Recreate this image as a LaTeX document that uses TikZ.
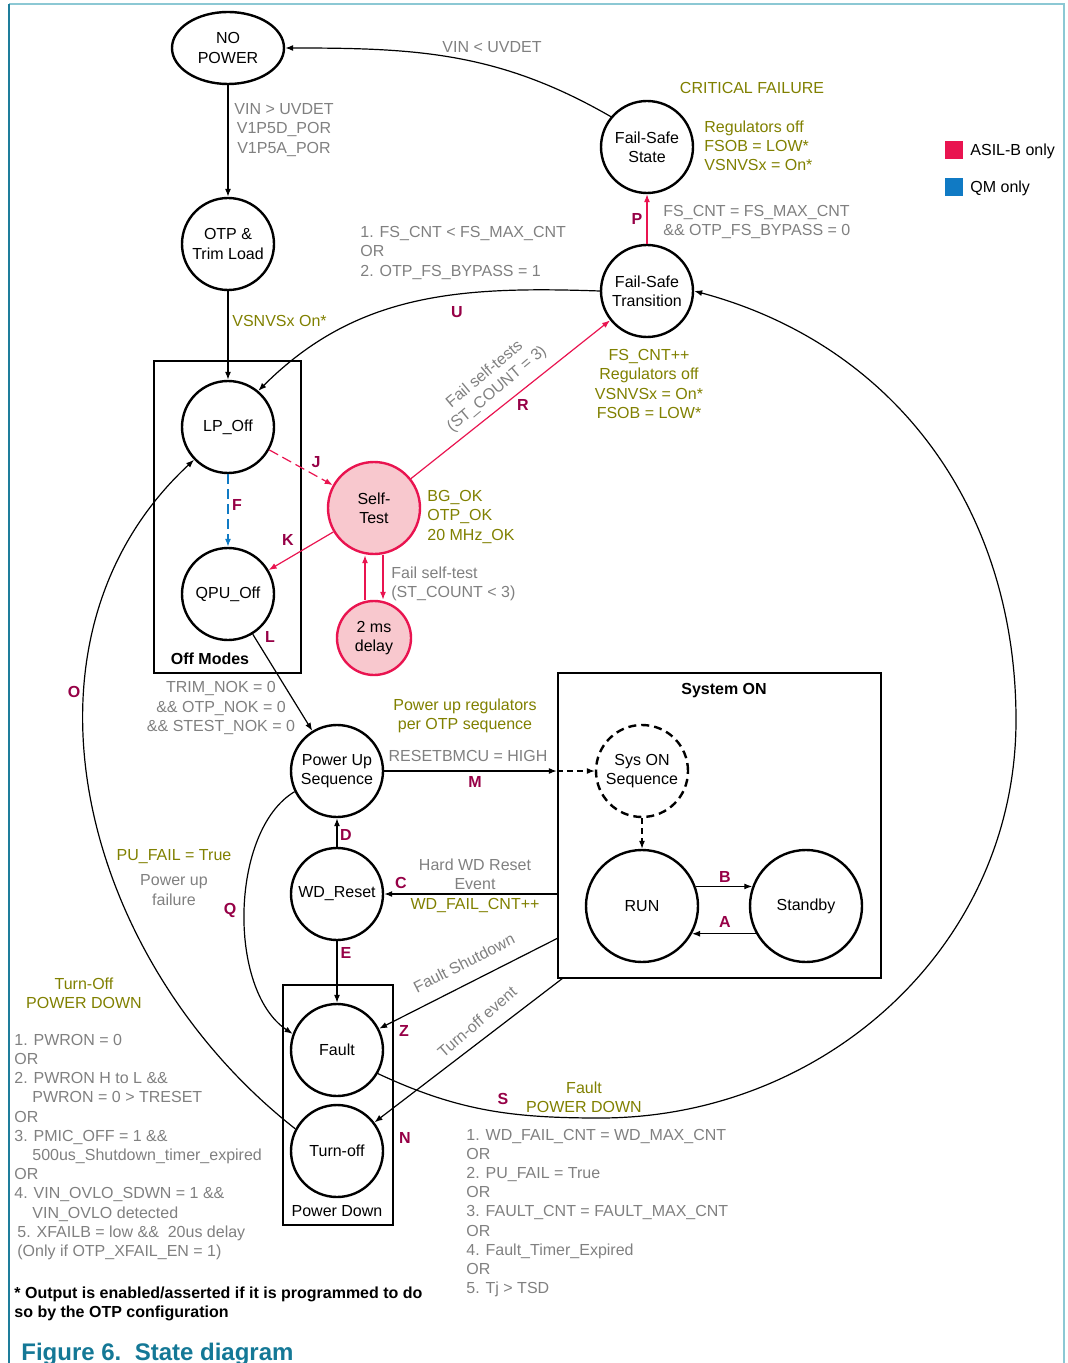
\documentclass[tikz,border=0pt]{standalone}
\usepackage{fontspec}
\setmainfont{Liberation Sans}
\usetikzlibrary{arrows.meta, shapes.geometric}

\definecolor{asil}{RGB}{233,20,80}
\definecolor{asilfill}{RGB}{248,200,206}
\definecolor{qm}{RGB}{16,122,196}
\definecolor{olivetxt}{RGB}{128,128,0}
\definecolor{graytxt}{RGB}{128,128,128}
\definecolor{lettercol}{RGB}{150,0,70}
\definecolor{framelt}{RGB}{140,200,212}
\definecolor{framedk}{RGB}{30,125,155}
\definecolor{captioncol}{RGB}{20,120,150}

\tikzset{
  state/.style={circle, draw, line width=1.2pt, minimum size=46pt, inner sep=0pt, align=center},
  bigstate/.style={state, minimum size=56pt},
  asilstate/.style={state, draw=asil, fill=asilfill},
  region/.style={rectangle, draw, line width=1.2pt, inner sep=0pt},
  txt/.style={inner sep=0pt, align=center},
  cond/.style={txt, text=graytxt},
  act/.style={txt, text=olivetxt},
  letter/.style={inner sep=0pt, text=lettercol, font=\fontsize{8}{9.6}\selectfont\bfseries},
  trans/.style={-{Latex[length=4pt,width=3pt]}, line width=0.6pt},
  asiltrans/.style={trans, draw=asil},
  qmtrans/.style={trans, draw=qm, dash pattern=on 5pt off 2.5pt},
}

\begin{document}
\begin{tikzpicture}[x=0.5pt, y=0.5pt, font=\fontsize{8}{9.6}\selectfont]
  \useasboundingbox (0,0) rectangle (1068,-1363);

  % page frame
  \draw[framelt, line width=1pt] (9,-4) -- (1064,-4) -- (1064,-1363);
  \draw[framedk, line width=1pt] (9,-4) -- (9,-1363);

  % regions
  \node[region, minimum width=73.5pt, minimum height=156pt] (offbox) at (227.5,-517) {};
  \node[region, minimum width=55pt, minimum height=120pt] (pdbox) at (338,-1105) {};
  \node[region, minimum width=161.5pt, minimum height=152.5pt] (sysbox) at (719.5,-825.5) {};
  \node[font=\fontsize{8}{9.6}\selectfont\bfseries, inner sep=0pt] (offlbl) at (210,-659) {Off Modes};
  \node[inner sep=0pt] (pdlbl) at (337,-1211) {Power Down};
  \node[font=\fontsize{8}{9.6}\selectfont\bfseries, inner sep=0pt] (syslbl) at (724,-691) {System ON};

  % states
  \node[ellipse, draw, line width=1.2pt, minimum width=56pt, minimum height=36pt, inner sep=0pt, align=center] (nopower) at (228,-48) {NO\\POWER};
  \node[state] (otp) at (228,-244) {OTP \&\\Trim Load};
  \node[state] (lpoff) at (228,-427) {LP\_Off};
  \node[state] (qpuoff) at (228,-594) {QPU\_Off};
  \node[asilstate] (selftest) at (374,-508) {Self-\\Test};
  \node[asilstate, minimum size=37pt] (delay) at (374,-638) {2 ms\\delay};
  \node[state] (fss) at (647,-147) {Fail-Safe\\State};
  \node[state] (fst) at (647,-291) {Fail-Safe\\Transition};
  \node[state] (pwrup) at (337,-771) {Power Up\\Sequence};
  \node[state] (wdrst) at (337,-894) {WD\_Reset};
  \node[state] (fault) at (337,-1050) {Fault};
  \node[state] (turnoff) at (337,-1151) {Turn-off};
  \node[state, dash pattern=on 4pt off 2.5pt] (sysseq) at (642,-771) {Sys ON\\Sequence};
  \node[bigstate] (run) at (642,-906) {RUN};
  \node[bigstate] (standby) at (806,-906) {Standby};

  % legend
  \node[fill=asil, minimum size=9pt, inner sep=0pt] (asilkey) at (954,-150) {};
  \node[anchor=west, inner sep=0pt] (asiltxt) at (970,-151) {ASIL-B only};
  \node[fill=qm, minimum size=9pt, inner sep=0pt] (qmkey) at (954,-187) {};
  \node[anchor=west, inner sep=0pt] (qmtxt) at (970,-188) {QM only};

  % transitions
  \draw[trans] (nopower.south) -- (otp.north);
  \draw[trans] (otp.south) -- (lpoff.north);
  \draw[trans] (fss.140) to[out=150, in=0] (nopower.east);
  \draw[asiltrans] (fst.north) -- (fss.south);
  \draw[trans] (fst.west) to[out=178, in=45] (lpoff.50);
  \draw[qmtrans] (lpoff.south) -- (qpuoff.north);
  \draw[asiltrans, dash pattern=on 5pt off 2.5pt] (lpoff) -- (selftest);
  \draw[asiltrans] (selftest) -- (qpuoff);
  \draw[asiltrans] (selftest) -- (fst);
  \draw[asiltrans] ([xshift=-4.5pt]delay.north) -- ([xshift=-4.5pt]selftest.south);
  \draw[asiltrans] ([xshift=4.5pt]selftest.south) -- ([xshift=4.5pt]delay.north);
  \draw[trans] (qpuoff) -- (pwrup);
  \draw[trans] (pwrup.east) -- (pwrup.east -| sysbox.west);
  \draw[trans, dash pattern=on 3pt off 2pt] (pwrup.east -| sysbox.west) -- (sysseq.west);
  \draw[trans, dash pattern=on 3pt off 2pt] (sysseq.south) -- (run.north);
  \draw[trans] (run.20) -- (standby.160);
  \draw[trans] (standby.-151) -- (run.-29);
  \draw[trans] (sysbox.west |- wdrst.east) -- (wdrst.east);
  \draw[trans] (wdrst.north) -- (pwrup.south);
  \draw[trans] (wdrst.south) -- (fault.north);
  \draw[trans] (pwrup.206) .. controls (230,-830) and (227,-990) .. (fault.160);
  \coordinate (zstart) at (558,-938);
  \coordinate (nstart) at (563,-978);
  \draw[trans] (zstart) -- (fault);
  \draw[trans] (nstart) -- (turnoff);
  \draw[trans] (turnoff.152) .. controls (80,-960) and (0,-640) .. (lpoff.224);
  \coordinate (sbottom) at (600,-1118);
  \coordinate (sright) at (1016,-720);
  \draw[trans] (fault.-30) to[out=-25, in=180] (sbottom) to[out=0, in=-90] (sright) to[out=90, in=-15] (fst.east);

  % transition letters
  \node[letter] (lu) at (457,-312) {U};
  \node[letter] (lp) at (637,-219) {P};
  \node[letter] (lj) at (316,-462) {J};
  \node[letter] (lf) at (237,-505) {F};
  \node[letter] (lk) at (288,-540) {K};
  \node[letter] (lr) at (523,-405) {R};
  \node[letter] (ll) at (270,-637) {L};
  \node[letter] (lm) at (475,-782) {M};
  \node[letter] (ld) at (346,-835) {D};
  \node[letter] (lc) at (401,-883) {C};
  \node[letter] (le) at (346,-953) {E};
  \node[letter] (lq) at (230,-910) {Q};
  \node[letter] (lo) at (74,-692) {O};
  \node[letter] (lz) at (404,-1031) {Z};
  \node[letter] (ln) at (405,-1138) {N};
  \node[letter] (ls) at (503,-1099) {S};
  \node[letter] (lb) at (725,-877) {B};
  \node[letter] (la) at (725,-922) {A};

  % conditions and actions
  \node[cond] (c1) at (284,-130) {VIN > UVDET\\V1P5D\_POR\\V1P5A\_POR};
  \node[act, anchor=west] (a1) at (232,-321) {VSNVSx On*};
  \node[cond] (c2) at (492,-47) {VIN < UVDET};
  \node[act] (a2) at (752,-88) {CRITICAL FAILURE};
  \node[act, anchor=west, align=left] (a3) at (704,-146) {Regulators off\\FSOB = LOW*\\VSNVSx = On*};
  \node[cond, anchor=west, align=left] (c3) at (663,-222) {FS\_CNT = FS\_MAX\_CNT\\\&\& OTP\_FS\_BYPASS = 0};
  \node[cond, anchor=west, align=left] (c4) at (360,-253) {1. FS\_CNT < FS\_MAX\_CNT\\OR\\2. OTP\_FS\_BYPASS = 1};
  \node[act] (a4) at (649,-384) {FS\_CNT++\\Regulators off\\VSNVSx = On*\\FSOB = LOW*};
  \node[cond, rotate=40] (c5) at (491,-382) {Fail self-tests\\(ST\_COUNT = 3)};
  \node[act, anchor=west, align=left] (a5) at (427,-517) {BG\_OK\\OTP\_OK\\20 MHz\_OK};
  \node[cond, anchor=west, align=left] (c6) at (391,-584) {Fail self-test\\(ST\_COUNT < 3)};
  \node[cond] (c7) at (221,-708) {TRIM\_NOK = 0\\\&\& OTP\_NOK = 0\\\&\& STEST\_NOK = 0};
  \node[act] (a6) at (465,-716) {Power up regulators\\per OTP sequence};
  \node[cond] (c8) at (468,-756) {RESETBMCU = HIGH};
  \node[cond] (c9) at (475,-874) {Hard WD Reset\\Event};
  \node[act] (a7) at (475,-905) {WD\_FAIL\_CNT++};
  \node[act] (a8) at (174,-857) {PU\_FAIL = True};
  \node[cond] (c10) at (174,-890) {Power up\\failure};
  \node[cond, rotate=27] (c11) at (464,-963) {Fault Shutdown};
  \node[cond, rotate=41] (c12) at (477,-1022) {Turn-off event};
  \node[act] (a9) at (84,-993) {Turn-Off\\POWER DOWN};
  \node[cond, anchor=west, align=left] (c13) at (14,-1147) {1. PWRON = 0\\OR\\2. PWRON H to L \&\&\\\hspace*{9pt}PWRON = 0 > TRESET\\OR\\3. PMIC\_OFF = 1 \&\&\\\hspace*{9pt}500us\_Shutdown\_timer\_expired\\OR\\4. VIN\_OVLO\_SDWN = 1 \&\&\\\hspace*{9pt}VIN\_OVLO detected\\\hspace*{1.5pt}5. XFAILB = low \&\&\ \ 20us delay\\\hspace*{1.5pt}(Only if OTP\_XFAIL\_EN = 1)};
  \node[act] (a10) at (584,-1097) {Fault\\POWER DOWN};
  \node[cond, anchor=west, align=left] (c14) at (466,-1213) {1. WD\_FAIL\_CNT = WD\_MAX\_CNT\\OR\\2. PU\_FAIL = True\\OR\\3. FAULT\_CNT = FAULT\_MAX\_CNT\\OR\\4. Fault\_Timer\_Expired\\OR\\5. Tj > TSD};

  % footnote and caption
  \node[txt, anchor=west, align=left, font=\fontsize{8}{9.6}\selectfont\bfseries] (note) at (14,-1304) {* Output is enabled/asserted if it is programmed to do\\so by the OTP configuration};
  \node[anchor=base west, inner sep=0pt, text=captioncol, font=\fontsize{12}{14}\selectfont\bfseries] (caption) at (21,-1360) {Figure 6.\ \ State diagram};
\end{tikzpicture}
\end{document}
